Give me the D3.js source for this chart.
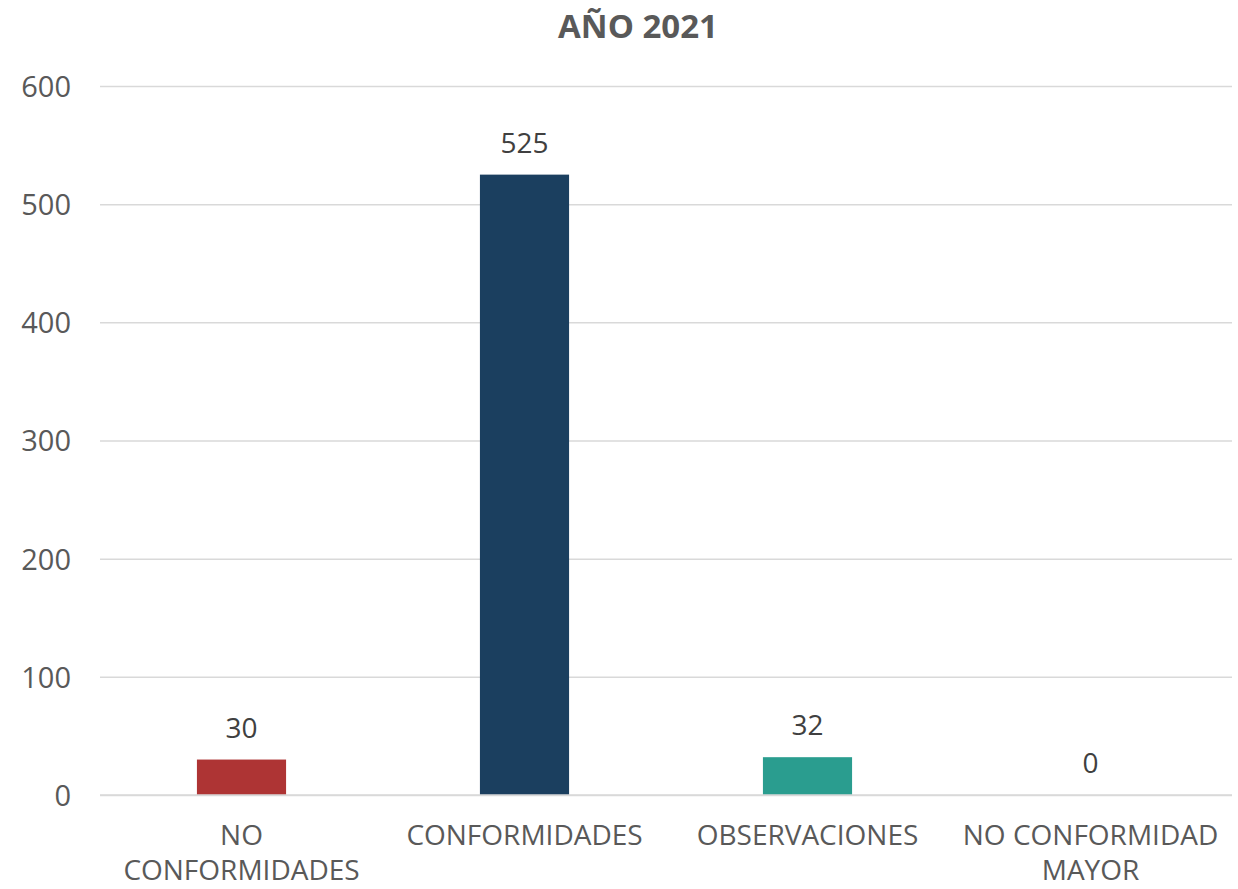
<!DOCTYPE html>
<html><head><meta charset="utf-8">
<script src="https://cdn.jsdelivr.net/npm/d3@7"></script>
<style>body{margin:0;background:#fff;} text{font-family:"Open Sans",sans-serif;}</style>
</head><body>
<svg id="c" width="1238" height="889"></svg>
<script>
const title = "AÑO 2021";
const categories = ["NO CONFORMIDADES", "CONFORMIDADES", "OBSERVACIONES", "NO CONFORMIDAD MAYOR"];
const values = [30, 525, 32, 0];
const colors = ["#AE3434", "#1B3F5F", "#2A9D8F", "#7F7F7F"];
const yTicks = [0, 100, 200, 300, 400, 500, 600];

const svg = d3.select("#c");
const plotL = 100, plotR = 1232, plotT = 86, plotB = 795;
const x = d3.scaleBand().domain(categories).range([plotL, plotR]).paddingInner(0.685).paddingOuter(0.3425);
const y = d3.scaleLinear().domain([0, 600]).range([plotB, plotT]);

svg.append("text").attr("x", 638).attr("y", 38).attr("text-anchor", "middle")
  .attr("font-size", 33).attr("font-weight", "bold").attr("fill", "#595959").text(title);

// gridlines
const yAxis = d3.axisLeft(y).tickValues(yTicks).tickSize(-(plotR - plotL)).tickPadding(29);
const gy = svg.append("g").attr("transform", `translate(${plotL},0)`).call(yAxis);
gy.select(".domain").remove();
gy.selectAll(".tick line").attr("stroke", "#D9D9D9").attr("stroke-width", 1.5);
gy.selectAll(".tick text").attr("fill", "#595959").attr("font-size", 29).attr("x", -29).attr("dy", "0.36em");

// bars
svg.selectAll("rect.bar").data(values).enter().append("rect")
  .attr("x", (d, i) => x(categories[i])).attr("width", x.bandwidth())
  .attr("y", d => y(d)).attr("height", d => y(0) - y(d))
  .attr("fill", (d, i) => colors[i]);

// baseline
svg.append("line").attr("x1", plotL).attr("x2", plotR).attr("y1", y(0)).attr("y2", y(0))
  .attr("stroke", "#D9D9D9").attr("stroke-width", 1.5);

// data labels
svg.selectAll("text.lbl").data(values).enter().append("text")
  .attr("x", (d, i) => x(categories[i]) + x.bandwidth() / 2)
  .attr("y", d => y(d) - 22).attr("text-anchor", "middle")
  .attr("font-size", 28).attr("fill", "#404040").text(d => d);

// category labels with wrapping
const xAxis = d3.axisBottom(x).tickSize(0).tickPadding(0);
const gx = svg.append("g").attr("transform", `translate(0,${plotB})`).call(xAxis);
gx.select(".domain").remove();
gx.selectAll(".tick text").attr("fill", "#595959").attr("font-size", 28).each(function(d) {
  const t = d3.select(this);
  const words = d.split(" ");
  t.text(null);
  let lines = [], cur = [];
  const maxW = 268;
  const tmp = t.append("tspan");
  words.forEach(w => {
    const test = cur.concat([w]).join(" ");
    tmp.text(test);
    if (tmp.node().getComputedTextLength() > maxW && cur.length) { lines.push(cur.join(" ")); cur = [w]; }
    else cur.push(w);
  });
  lines.push(cur.join(" "));
  tmp.remove();
  t.attr("y", 0).attr("dy", null);
  lines.forEach((l, i) => t.append("tspan").attr("x", 0).attr("y", 50 + i * 35).text(l));
});
</script>
</body></html>
